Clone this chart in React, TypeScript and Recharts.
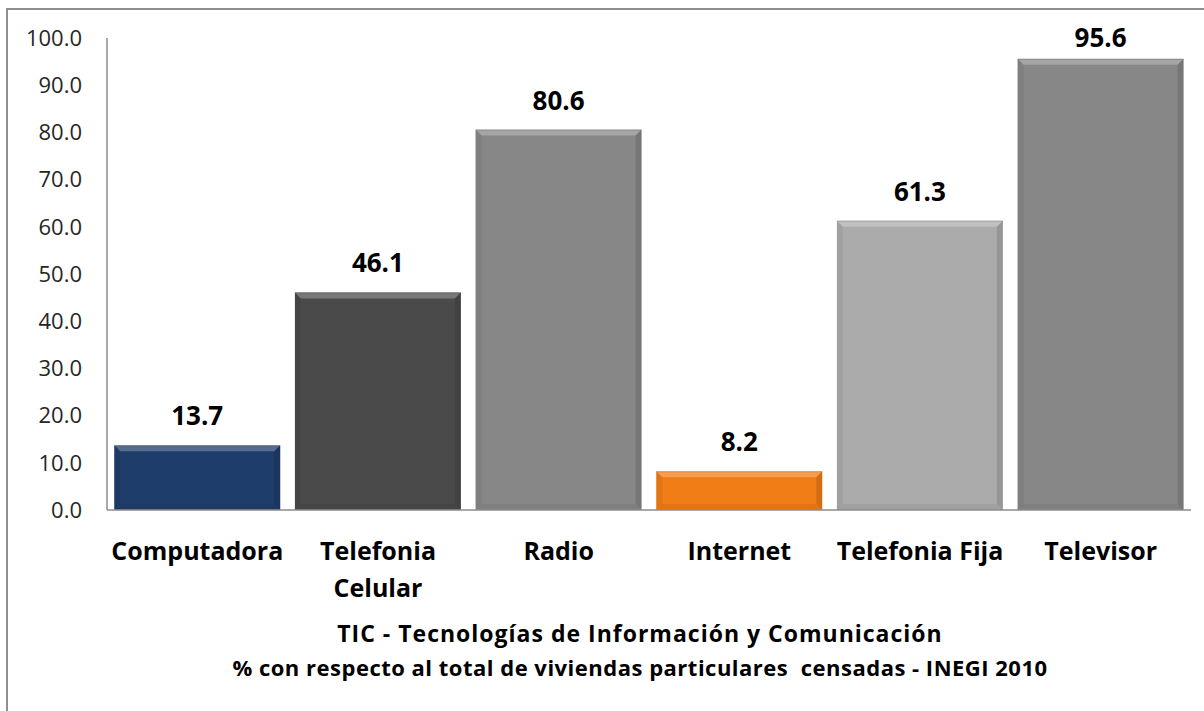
import React from 'react';
import { BarChart, Bar, XAxis, YAxis, Cell, LabelList } from 'recharts';

const categories = ['Computadora', 'Telefonia\nCelular', 'Radio', 'Internet', 'Telefonia Fija', 'Televisor'];
const values = [13.7, 46.1, 80.6, 8.2, 61.3, 95.6];
const yTicks = [0, 10, 20, 30, 40, 50, 60, 70, 80, 90, 100];
const titleLine1 = 'TIC - Tecnologías de Información y Comunicación';
const titleLine2 = '% con respecto al total de viviendas particulares  censadas - INEGI 2010';

const COLORS = ['#1f3d6b', '#4a4a4a', '#878787', '#f07d16', '#ababab', '#878787'];
const FONT = '"Open Sans", "DejaVu Sans", sans-serif';

const data = categories.map((c, i) => ({ name: c, value: values[i] }));

const BevelBar = (props: any) => {
  const { x, y, width: w, height: h, fill } = props;
  if (!h || h <= 0) return null;
  const b = Math.min(6, h / 2, w / 2);
  return (
    <g>
      <rect x={x} y={y} width={w} height={h} fill={fill} />
      <polygon points={`${x},${y} ${x + w},${y} ${x + w - b},${y + b} ${x + b},${y + b}`} fill="#ffffff" fillOpacity={0.25} />
      <polygon points={`${x + w},${y} ${x + w},${y + h} ${x + w - b},${y + h - b} ${x + w - b},${y + b}`} fill="#000000" fillOpacity={0.12} />
      <polygon points={`${x},${y} ${x + b},${y + b} ${x + b},${y + h - b} ${x},${y + h}`} fill="#000000" fillOpacity={0.06} />
      <polygon points={`${x},${y + h} ${x + b},${y + h - b} ${x + w - b},${y + h - b} ${x + w},${y + h}`} fill="#000000" fillOpacity={0.06} />
      <line x1={x} y1={y + 0.5} x2={x + w} y2={y + 0.5} stroke="#000" strokeOpacity={0.15} />
    </g>
  );
};

const CategoryTick = (props: any) => {
  const { x, y, payload } = props;
  const lines = String(payload.value).split('\n');
  return (
    <g>
      {lines.map((ln, i) => (
        <text key={i} x={x} y={y + 50 + i * 37} textAnchor="middle" fontFamily={FONT} fontWeight="bold" fontSize={25} fill="#000">
          {ln}
        </text>
      ))}
    </g>
  );
};

const ValueLabel = (props: any) => {
  const { x, y, width, value } = props;
  return (
    <text x={x + width / 2} y={Math.max(y - 20, 47)} textAnchor="middle" fontFamily={FONT} fontWeight="bold" fontSize={26} fill="#000">
      {Number(value).toFixed(1)}
    </text>
  );
};

export default function App() {
  return (
    <div style={{ position: 'absolute', left: 0, top: 0, width: 1204, height: 711, overflow: 'hidden', background: '#fff' }}>
      <div style={{ position: 'absolute', left: 6, top: 8, width: 1300, height: 800, border: '2px solid #8e8e8e', boxSizing: 'border-box' }} />
      <div style={{ position: 'absolute', left: 0, top: 0 }}>
        <BarChart width={1204} height={711} data={data} margin={{ top: 38, right: 13, bottom: 101, left: 0 }} barCategoryGap="4%">
          <YAxis
            type="number"
            domain={[0, 100]}
            ticks={yTicks}
            interval={0}
            width={107}
            tickSize={0}
            tickMargin={25}
            tickFormatter={(v: number) => v.toFixed(1)}
            axisLine={{ stroke: '#8c8c8c', strokeWidth: 1.5 }}
            tick={{ fontFamily: FONT, fontSize: 22, fill: '#262626' }}
          />
          <XAxis
            dataKey="name"
            height={100}
            tickSize={0}
            tickMargin={0}
            interval={0}
            axisLine={{ stroke: '#8c8c8c', strokeWidth: 1.5 }}
            tick={<CategoryTick />}
          />
          <Bar dataKey="value" shape={<BevelBar />} isAnimationActive={false}>
            {data.map((d, i) => (
              <Cell key={i} fill={COLORS[i]} />
            ))}
            <LabelList dataKey="value" content={<ValueLabel />} />
          </Bar>
        </BarChart>
      </div>
      <div style={{ position: 'absolute', left: 0, width: 1280, top: 616, textAlign: 'center', fontFamily: FONT, fontWeight: 'bold', lineHeight: '34px', color: '#000', whiteSpace: 'pre' }}>
        <div style={{ fontSize: 23, letterSpacing: '1px' }}>{titleLine1}</div>
        <div style={{ fontSize: 22, letterSpacing: '0.5px' }}>{titleLine2}</div>
      </div>
    </div>
  );
}
